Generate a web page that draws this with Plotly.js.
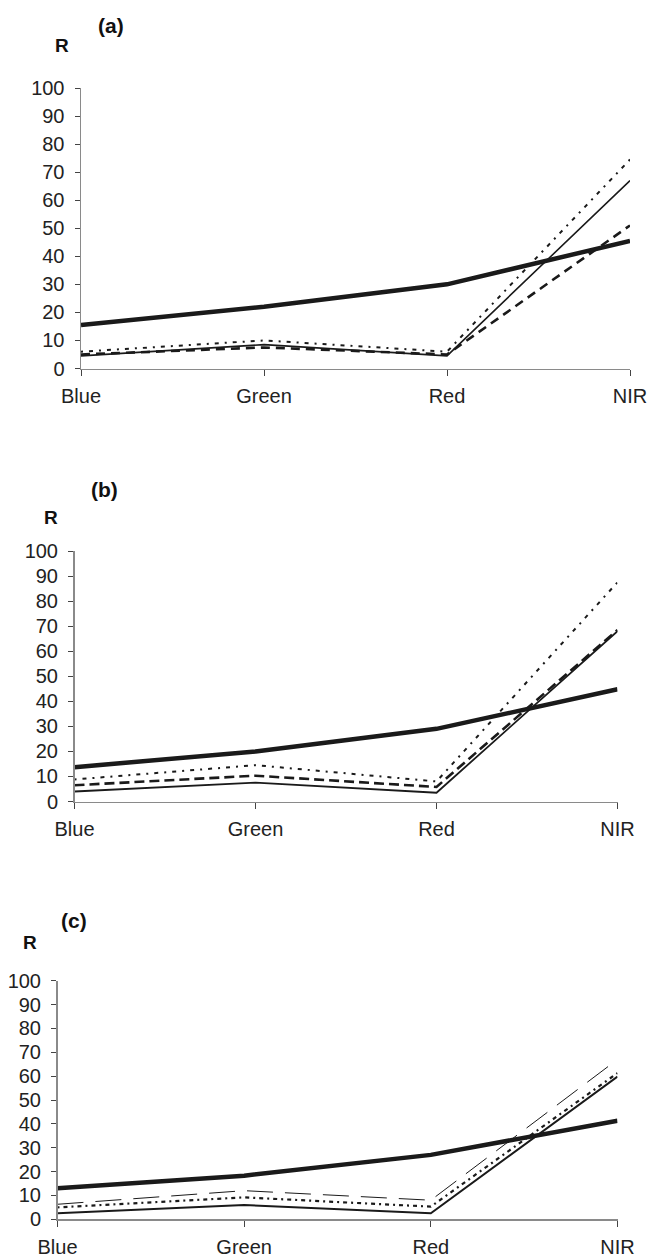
<!DOCTYPE html>
<html>
<head>
<meta charset="utf-8">
<script src="https://cdn.plot.ly/plotly-3.0.1.min.js"></script>
<style>html,body{margin:0;padding:0;background:#fff}#chart{width:649px;height:1260px}</style>
</head>
<body>
<div id="chart"></div>
<script>
// Data
const bands = ["Blue", "Green", "Red", "NIR"];
const yTicks = [0, 10, 20, 30, 40, 50, 60, 70, 80, 90, 100];
const panelLabels = ["(a)", "(b)", "(c)"];

// Panel (a)
const a_thick  = [15.5, 22, 30, 45.5];
const a_solid  = [4.5, 8.5, 4.5, 67];
const a_dotted = [6, 10, 6, 74.5];
const a_dashed = [5, 7.5, 5, 51];
// Panel (b)
const b_thick  = [13.7, 20, 29, 44.8];
const b_solid  = [4, 7.5, 3.5, 68];
const b_dotted = [8.8, 14.5, 8, 87.5];
const b_dashed = [6.5, 10.3, 5.8, 68.5];
// Panel (c)
const c_thick  = [13, 18.3, 27, 41.3];
const c_solid  = [2.5, 6, 2.5, 59.8];
const c_dotted = [5, 9.2, 5.3, 61.3];
const c_dashed = [6.3, 12, 8, 67];

const W = 649, H = 1260;
const px = x => x / W;
const py = y => 1 - y / H;

const ink = '#1a1a1a';
function tr(y, ax, width, dash) {
  return {x: bands, y: y, type: 'scatter', mode: 'lines', xaxis: 'x' + ax, yaxis: 'y' + ax,
          line: {color: ink, width: width, dash: dash}, hoverinfo: 'skip', showlegend: false};
}

const data = [
  tr(a_dashed, '', 2.6, '9px,6px'),
  tr(a_dotted, '', 2, '2px,6px,4px,6px'),
  tr(a_solid, '', 1.6, 'solid'),
  tr(a_thick, '', 4.5, 'solid'),
  tr(b_dashed, '2', 2.6, '10px,5px'),
  tr(b_dotted, '2', 2, '2px,6px,4px,6px'),
  tr(b_solid, '2', 1.8, 'solid'),
  tr(b_thick, '2', 4.5, 'solid'),
  tr(c_dashed, '3', 1, '26px,12px'),
  tr(c_dotted, '3', 2.2, '2px,4px,4px,4px'),
  tr(c_solid, '3', 2, 'solid'),
  tr(c_thick, '3', 4.5, 'solid')
];

const tickFont = {family: 'Liberation Sans, Arial, sans-serif', size: 20, color: '#222'};
function xax(x0, x1, anchor) {
  return {domain: [px(x0), px(x1)], anchor: anchor, type: 'category', range: [0, 3],
          showline: true, linecolor: '#8a8a8a', linewidth: 1.5, showgrid: false, zeroline: false,
          ticks: 'outside', ticklen: 6, tickcolor: '#444', tickwidth: 1,
          tickfont: tickFont, ticklabelstandoff: 3, fixedrange: true};
}
function yax(yTop, yBot, anchor) {
  return {domain: [py(yBot), py(yTop)], anchor: anchor, range: [0, 100],
          tickmode: 'array', tickvals: yTicks, ticktext: yTicks.map(String),
          showline: true, linecolor: '#8a8a8a', linewidth: 1.5, showgrid: false, zeroline: false,
          ticks: 'outside', ticklen: 5, tickcolor: '#444', tickwidth: 1,
          tickfont: tickFont, ticklabelstandoff: 6, fixedrange: true};
}

function ann(text, x, y, size) {
  return {text: '<b>' + text + '</b>', xref: 'paper', yref: 'paper', x: px(x), y: py(y),
          xanchor: 'center', yanchor: 'middle', showarrow: false,
          font: {family: 'Liberation Sans, Arial, sans-serif', size: size, color: '#111'}};
}

const layout = {
  width: W, height: H, autosize: false,
  margin: {l: 0, r: 0, t: 0, b: 0},
  paper_bgcolor: '#fff', plot_bgcolor: '#fff',
  showlegend: false,
  xaxis: xax(81, 630, 'y'),
  yaxis: yax(88, 368.5, 'x'),
  xaxis2: xax(74.5, 617.5, 'y2'),
  yaxis2: yax(551, 801.5, 'x2'),
  xaxis3: xax(57.5, 617.5, 'y3'),
  yaxis3: yax(980.7, 1219.3, 'x3'),
  annotations: [
    ann(panelLabels[0], 111, 25, 21), ann('R', 62, 46, 19),
    ann(panelLabels[1], 104, 490, 21), ann('R', 51, 517, 19),
    ann(panelLabels[2], 74, 920, 21), ann('R', 30, 942, 19)
  ]
};

Plotly.newPlot('chart', data, layout, {staticPlot: true, displayModeBar: false});
</script>
</body>
</html>
